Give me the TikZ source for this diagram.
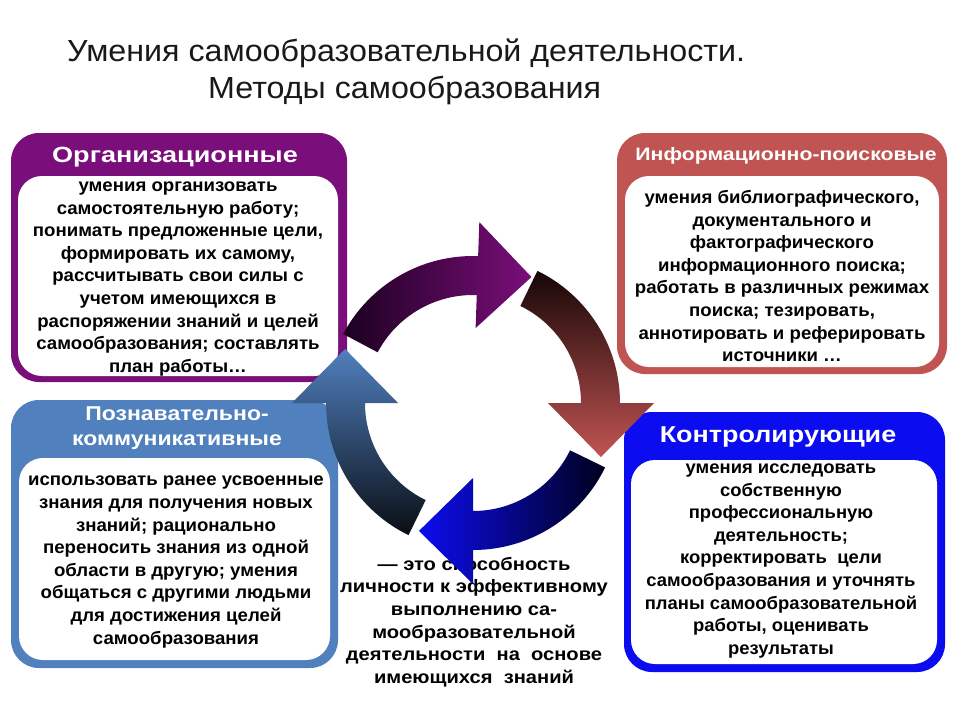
\documentclass[tikz,border=0pt]{standalone}
\usepackage{fontspec}
\setmainfont{Liberation Sans}
\usetikzlibrary{calc}
\definecolor{orgc}{RGB}{122,14,122}
\definecolor{infc}{RGB}{192,84,82}
\definecolor{posc}{RGB}{80,128,190}
\definecolor{konc}{RGB}{12,12,240}
\definecolor{orgdark}{RGB}{28,0,32}
\definecolor{infdark}{RGB}{22,6,6}
\definecolor{kondark}{RGB}{0,0,28}
\definecolor{posdark}{RGB}{10,14,20}
\definecolor{titlec}{RGB}{25,25,25}
\newcommand\ringarrow[2]{%
  \path[#2] ({-(#1+64)}:147) arc[start angle={-(#1+64)}, end angle={-(#1)}, radius=147]
    -- ({-(#1)}:181) -- ({-(#1-22.9)}:138.9) -- ({-(#1)}:75) -- ({-(#1)}:108)
    arc[start angle={-(#1)}, end angle={-(#1+64)}, radius=108] -- cycle;}
\begin{document}
\begin{tikzpicture}[x=1pt,y=-1pt,
  outerbox/.style={rounded corners=28pt},
  innerbox/.style={fill=white, rounded corners=24pt},
  body/.style={font=\bfseries\fontsize{18}{22.6}\selectfont, align=center, text=black, inner sep=0pt, xscale=1.035},
  hdr/.style={font=\bfseries\fontsize{22}{26}\selectfont, align=center, text=white, inner sep=0pt},
  titletext/.style={font=\fontsize{30.5}{36}\selectfont, text=titlec, inner sep=0pt, xscale=1.057}]
\useasboundingbox[fill=white] (0,0) rectangle (960,720);

% title
\node[titletext, anchor=base west] (t1) at (67,61) {Умения самообразовательной деятельности.};
\node[titletext, anchor=base west] (t2) at (208,98) {Методы самообразования};

% Organizational
\fill[orgc, outerbox] (11,133) rectangle (347,382);
\fill[innerbox] (18,176) rectangle (338,376);
\node[hdr, xscale=1.23] (orgh) at (175,157) {Организационные};
\node[body] (orgt) at (178,279) {умения организовать\\самостоятельную работу;\\понимать предложенные цели,\\формировать их самому,\\рассчитывать свои силы с\\учетом имеющихся в\\распоряжении знаний и целей\\самообразования; составлять\\план работы…};

% Information
\fill[infc, outerbox] (617,133) rectangle (947,374);
\fill[innerbox] (625,176) rectangle (939,367);
\node[hdr, font=\bfseries\fontsize{18}{20}\selectfont, xscale=1.18] (infh) at (786,156) {Информационно-поисковые};
\node[body] (inft) at (782,276) {умения библиографического,\\документального и\\фактографического\\информационного поиска;\\работать в различных режимах\\поиска; тезировать,\\аннотировать и реферировать\\источники …};

% Cognitive-communicative
\fill[posc, outerbox] (11,400) rectangle (338,668);
\fill[innerbox] (19,458) rectangle (330,660);
\node[hdr, font=\bfseries\fontsize{20}{25}\selectfont, xscale=1.15] (posh) at (177,428) {Познавательно-\\коммуникативные};
\node[body] (post) at (176,562) {использовать ранее усвоенные\\знания для получения новых\\знаний; рационально\\переносить знания из одной\\области в другую; умения\\общаться с другими людьми\\для достижения целей\\самообразования};

% Controlling
\fill[konc, outerbox] (624,412) rectangle (945,672);
\fill[innerbox] (631,460) rectangle (937,664);
\node[hdr, font=\bfseries\fontsize{23}{26}\selectfont, xscale=1.17] (konh) at (778,437) {Контролирующие};
\node[body, xscale=0.99] (kont) at (781,561) {умения исследовать\\собственную\\профессиональную\\деятельность;\\корректировать\ \ цели\\самообразования и уточнять\\планы самообразовательной\\работы, оценивать\\результаты};

% bottom text
\node[body, xscale=1.08] (def) at (474,622) {— это способность\\личности к эффективному\\выполнению са-\\мообразовательной\\деятельности\ \ на\ \ основе\\имеющихся\ \ знаний};

% circular arrows
\begin{scope}[shift={(473,403)}]
  \ringarrow{88}{left color=orgdark, right color=orgc}
  \ringarrow{0}{top color=infdark, bottom color=infc}
  \ringarrow{-90}{left color=konc, right color=kondark}
  \ringarrow{180}{top color=posc, bottom color=posdark}
\end{scope}
\end{tikzpicture}
\end{document}
